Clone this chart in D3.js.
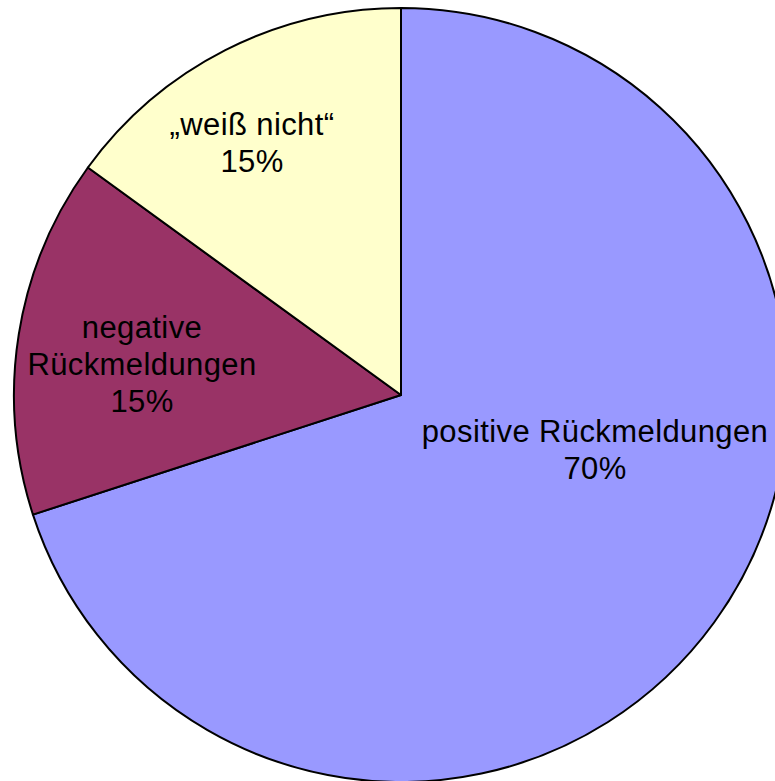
<!DOCTYPE html>
<html>
<head>
<meta charset="utf-8">
<script src="https://cdn.jsdelivr.net/npm/d3@7"></script>
<style>
  html, body { margin: 0; padding: 0; background: #fff; }
  svg { display: block; }
</style>
</head>
<body>
<script>
// Survey feedback shares
const categories = ["positive Rückmeldungen", "negative Rückmeldungen", "„weiß nicht“"];
const values = [70, 15, 15];
const colors = ["#9999FF", "#993366", "#FFFFCC"];
// Label lines per slice (name lines, then percentage)
const labelLines = [
  ["positive Rückmeldungen", "70%"],
  ["negative", "Rückmeldungen", "15%"],
  ["„weiß nicht“", "15%"]
];

// Layout
const width = 775, height = 781;
const cx = 401, cy = 395, radius = 387;
const fontSize = 31, lineGap = 37;
// Label block centres relative to the pie centre (x, first-baseline y)
const labelAnchors = [[194, 47], [-259, -57], [-149, -260]];

const svg = d3.select("body").append("svg")
  .attr("width", width).attr("height", height);

const g = svg.append("g").attr("transform", `translate(${cx},${cy})`);

const pie = d3.pie().sort(null).value(d => d.value);
const arc = d3.arc().innerRadius(0).outerRadius(radius);

const data = categories.map((c, i) => ({ name: c, value: values[i], color: colors[i], lines: labelLines[i], anchor: labelAnchors[i] }));

g.selectAll("path.slice")
  .data(pie(data))
  .join("path")
  .attr("class", "slice")
  .attr("d", arc)
  .attr("fill", d => d.data.color)
  .attr("stroke", "#000")
  .attr("stroke-width", 2)
  .attr("stroke-linejoin", "round");

const labels = g.selectAll("text.label")
  .data(data)
  .join("text")
  .attr("class", "label")
  .attr("text-anchor", "middle")
  .attr("font-family", "'Liberation Sans', Arial, Helvetica, sans-serif")
  .attr("font-size", fontSize)
  .attr("letter-spacing", "0.4px")
  .attr("fill", "#000");

labels.each(function(d) {
  d3.select(this).selectAll("tspan")
    .data(d.lines)
    .join("tspan")
    .attr("x", d.anchor[0])
    .attr("y", (t, i) => d.anchor[1] + i * lineGap)
    .text(t => t);
});
</script>
</body>
</html>
